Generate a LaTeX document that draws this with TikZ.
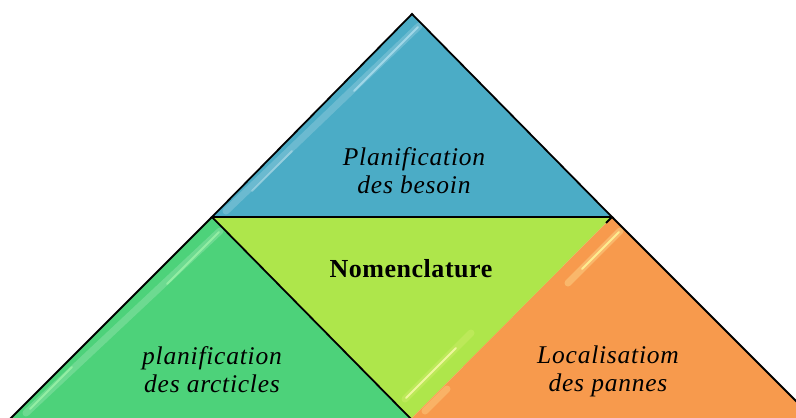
\documentclass[tikz,border=0pt]{standalone}
\usepackage{fontspec}
\setmainfont{Liberation Serif}
\newfontfamily\labelfont[LetterSpace=3]{Liberation Serif}
\newfontfamily\titlefont[LetterSpace=2]{Liberation Serif}
\usetikzlibrary{calc}

\definecolor{besoinblue}{HTML}{4BACC6}
\definecolor{articlegreen}{HTML}{4DD27A}
\definecolor{nomenlime}{HTML}{AEE64B}
\definecolor{panneorange}{HTML}{F79A4D}

\tikzset{
  facet/.style={line width=1.8pt, line join=miter, draw=black},
  glow/.style={line cap=round, line width=7pt, opacity=0.18},
  streak/.style={line cap=round, line width=2pt, opacity=0.55},
  facetlabel/.style={font=\labelfont\itshape\fontsize{25.5}{28}\selectfont, align=center, text=black},
  centrelabel/.style={font=\titlefont\bfseries\fontsize{26}{28}\selectfont, text=black}
}

\begin{document}
\begin{tikzpicture}[x=1pt,y=-1pt]
  \useasboundingbox (0,0) rectangle (796,418);
  \clip (0,0) rectangle (796,418);

  % corner points of the four facets
  \coordinate (apex) at (412,14);
  \coordinate (tl) at (212,217);
  \coordinate (tr) at (612,217);
  \coordinate (bm) at (411,419);
  \coordinate (bl) at (10,419);
  \coordinate (br) at (814,419);

  % top facet, sheen along its left edge
  \fill[besoinblue] (apex) -- (tr) -- (tl) -- cycle;
  \draw[glow, white] ($(apex)+(7,12)$) -- ($(tl)+(14,-6)$);
  \draw[streak, white!80!cyan] ($(apex)+(6,13)$) -- ($(apex)+(-58,77)$);
  \draw[streak, white, opacity=0.3] ($(tl)+(40,-26)$) -- ($(tl)+(80,-66)$);

  % centre facet, sheen along its right edge
  \fill[nomenlime] (tl) -- (tr) -- (bm) -- cycle;
  \draw[glow, yellow!40!white] ($(bm)+(-6,-20)$) -- ($(bm)+(60,-86)$);
  \draw[streak, yellow!30!white, opacity=0.75] ($(bm)+(-5,-21)$) -- ($(bm)+(45,-71)$);

  % left facet, sheen along its left edge
  \fill[articlegreen] (tl) -- (bm) -- (bl) -- cycle;
  \draw[glow, white] ($(tl)+(8,14)$) -- ($(bl)+(16,-6)$);
  \draw[streak, white!70!green] ($(tl)+(7,15)$) -- ($(tl)+(-45,67)$);
  \draw[streak, white!70!green] ($(bl)+(20,-10)$) -- ($(bl)+(62,-52)$);

  % right facet, sheen along its left edge
  \fill[panneorange] (tr) -- (br) -- (bm) -- cycle;
  \draw[glow, yellow!30!white, opacity=0.3] ($(tr)+(8,14)$) -- ($(tr)+(-44,66)$);
  \draw[streak, yellow!40!white, opacity=0.8] ($(tr)+(7,15)$) -- ($(tr)+(-30,52)$);
  \draw[glow, yellow!30!white, opacity=0.25] ($(bm)+(14,-8)$) -- ($(bm)+(36,-30)$);

  % outlines
  \draw[facet] (tl) -- (apex) -- (tr) -- cycle;
  \draw[facet] (tl) -- (bm);
  \draw[facet] (tl) -- (bl);
  \draw[facet] (tr) -- (br);
  \draw[facet] (tr) -- ($(tr)+(-6,6)$);

  % labels
  \node[facetlabel] (besoin) at (414,171) {Planification\\des besoin};
  \node[centrelabel] (nomen) at (411,269) {Nomenclature};
  \node[facetlabel] (articles) at (212,370) {planification\\des arcticles};
  \node[facetlabel] (pannes) at (608,371) {Localisatiom\\des pannes};
\end{tikzpicture}
\end{document}
